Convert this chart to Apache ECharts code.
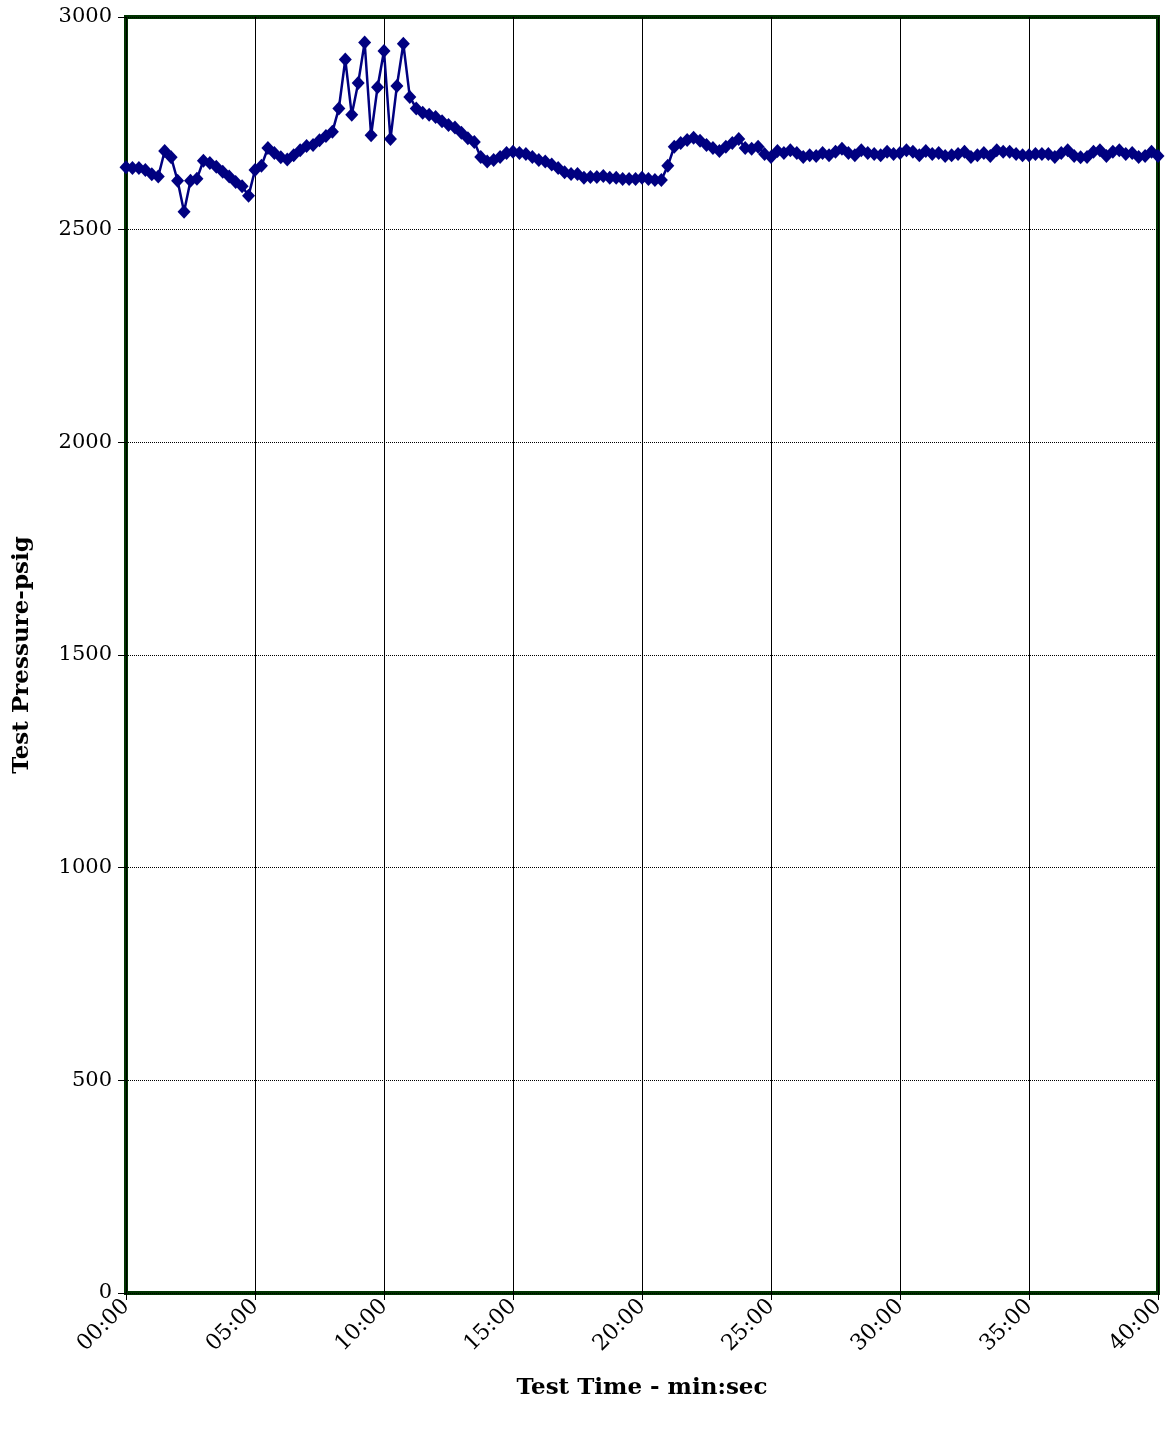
<!DOCTYPE html>
<html>
<head>
<meta charset="utf-8">
<script src="https://cdn.jsdelivr.net/npm/echarts@6/dist/echarts.min.js"></script>
<style>
html,body{margin:0;padding:0;background:#fff;}
#chart{width:1168px;height:1429px;}
</style>
</head>
<body>
<div id="chart"></div>
<script>
// Test time in minutes (samples every 15 s) and test pressure in psig
var stepMinutes = 0.25;
var pressure = [
  2647,2645,2645,2640,2630,2625,2685,2670,2615,2542,
  2615,2620,2662,2657,2648,2636,2625,2612,2602,2580,
  2640,2650,2692,2680,2670,2665,2675,2687,2697,2699,
  2710,2720,2730,2785,2900,2770,2845,2940,2722,2835,
  2920,2713,2838,2937,2812,2785,2775,2770,2765,2755,
  2746,2740,2728,2715,2706,2671,2660,2664,2671,2680,
  2683,2680,2678,2671,2664,2660,2653,2645,2635,2631,
  2631,2622,2624,2624,2626,2622,2622,2619,2619,2619,
  2622,2619,2617,2617,2650,2695,2704,2711,2716,2709,
  2699,2692,2685,2695,2704,2713,2692,2690,2695,2678,
  2671,2685,2680,2687,2680,2671,2675,2673,2680,2675,
  2683,2690,2680,2675,2687,2680,2678,2675,2683,2678,
  2680,2687,2683,2675,2685,2678,2680,2673,2675,2678,
  2683,2671,2675,2680,2673,2687,2683,2683,2678,2675,
  2675,2678,2678,2678,2671,2680,2687,2673,2670,2671,
  2683,2687,2673,2683,2687,2678,2680,2671,2673,2683,
  2673
];
var timeMinutes = pressure.map(function (v, i) { return i * stepMinutes; });
var xTickLabels = ['00:00','05:00','10:00','15:00','20:00','25:00','30:00','35:00','40:00'];
var yTicks = [0, 500, 1000, 1500, 2000, 2500, 3000];

var seriesData = pressure.map(function (v, i) { return [timeMinutes[i], v]; });
var font = 'DejaVu Serif';

var chart = echarts.init(document.getElementById('chart'), null, {renderer: 'canvas'});
chart.setOption({
  animation: false,
  backgroundColor: '#ffffff',
  grid: {
    left: 126, right: 10, top: 17, bottom: 136,
    show: true, borderColor: '#003300', borderWidth: 4, backgroundColor: 'transparent'
  },
  xAxis: {
    type: 'value', min: 0, max: 40, interval: 5,
    name: 'Test Time - min:sec', nameLocation: 'middle', nameGap: 84,
    nameTextStyle: {fontFamily: font, fontWeight: 'bold', fontSize: 23, color: '#000'},
    axisLine: {show: false},
    axisTick: {show: true, length: 7, lineStyle: {color: '#000', width: 1}},
    axisLabel: {
      rotate: 45, margin: 10, fontFamily: font, fontSize: 22, color: '#000',
      formatter: function (v) { return xTickLabels[Math.round(v / 5)]; }
    },
    splitLine: {show: true, lineStyle: {color: '#000', width: 1, type: 'solid'}}
  },
  yAxis: {
    type: 'value', min: 0, max: 3000, interval: 500,
    name: 'Test Pressure-psig', nameLocation: 'middle', nameGap: 92, nameRotate: 90,
    nameTextStyle: {fontFamily: font, fontWeight: 'bold', fontSize: 23, color: '#000'},
    axisLine: {show: false},
    axisTick: {show: true, length: 8, lineStyle: {color: '#000', width: 1}},
    axisLabel: {
      margin: 14, fontFamily: font, fontSize: 21, color: '#000',
      formatter: function (v) { return yTicks.indexOf(v) >= 0 ? String(v) : ''; }
    },
    splitLine: {show: true, lineStyle: {color: '#000', width: 1, type: [1, 1]}}
  },
  series: [{
    type: 'line',
    data: seriesData,
    symbol: 'diamond',
    symbolSize: [13, 14],
    showAllSymbol: true,
    clip: false,
    lineStyle: {color: '#000080', width: 2.5},
    itemStyle: {color: '#000080', borderWidth: 0}
  }]
});
</script>
</body>
</html>
